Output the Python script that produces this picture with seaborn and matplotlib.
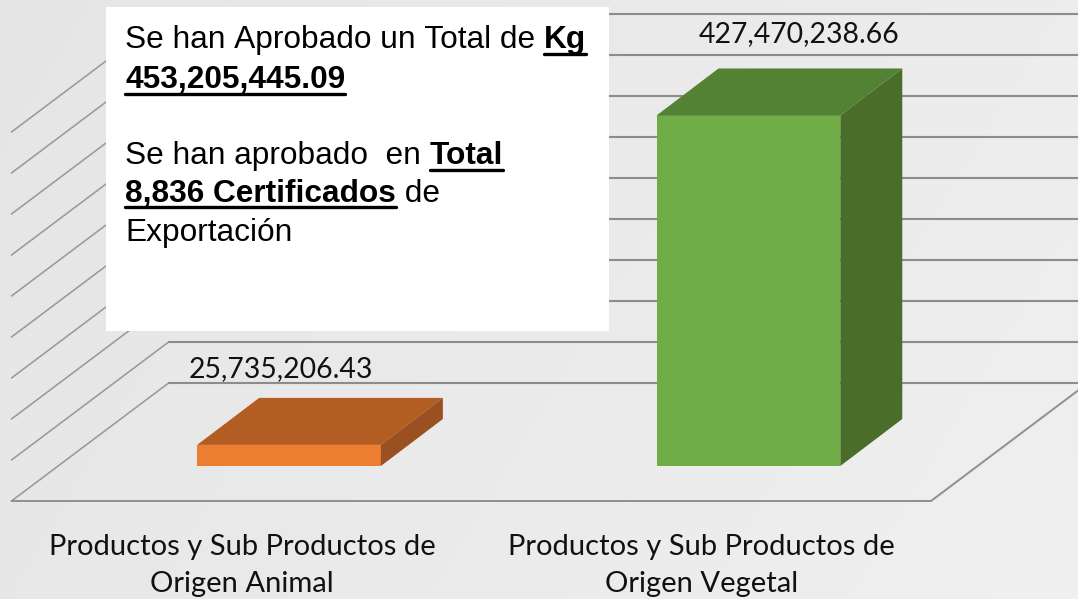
import numpy as np
import pandas as pd
import matplotlib
matplotlib.use('Agg')
import matplotlib.pyplot as plt
import seaborn as sns
from matplotlib.lines import Line2D
from matplotlib.patches import Polygon, Rectangle

# datos
categorias = ['Productos y Sub Productos de\nOrigen Animal', 'Productos y Sub Productos de\nOrigen Vegetal']
valores = [25735206.43, 427470238.66]
rejilla = [0, 50e6, 100e6, 150e6, 200e6, 250e6, 300e6, 350e6, 400e6, 450e6]
col_frente = ['#ED7D31', '#70AD47']
col_arriba = ['#B35D22', '#548235']
col_lado = ['#9A5020', '#4A6E2A']

W, H = 1078, 599
sns.set_theme(style='white')
plt.rcParams['font.family'] = ['Lato', 'DejaVu Sans']

fig = plt.figure(figsize=(W / 100, H / 100), dpi=100)

# fondo gris con degradado
bg = fig.add_axes([0, 0, 1, 1], zorder=-1)
gx, gy = np.meshgrid(np.linspace(0, 1, 200), np.linspace(0, 1, 120))
bg.imshow(gx * 0.75 + (1 - gy) * 0.25, cmap='gray', vmin=-22.4, vmax=2.6, aspect='auto', origin='lower')
bg.axis('off')

# escala: 41 px = 50 millones, base de las barras en y=466
px_y = 50e6 / 41
px_x = 1 / 459.4
ax = fig.add_axes([0, (H - 510) / H, 1, 510 / H])
df = pd.DataFrame({'cat': categorias, 'valor': valores})
sns.barplot(data=df, x='cat', y='valor', hue='cat', palette=col_frente, width=0.4,
            legend=False, saturation=1, linewidth=0, ax=ax, zorder=3)
ax.set_xlim(-289 * px_x, (W - 289) * px_x)
ax.set_ylim(-44 * px_y, 466 * px_y)
ax.patch.set_alpha(0)
for s in ax.spines.values():
    s.set_visible(False)
ax.set_xlabel('')
ax.set_ylabel('')
ax.set_yticks([])

# suelo y paredes
izq = (11.5 - 289) * px_x
fondo_izq = (168.6 - 289) * px_x
fondo_der = (1088 - 289) * px_x
frente_der = (931 - 289) * px_x
abajo = -35 * px_y
atras = 83 * px_y
for g in rejilla:
    ax.plot([izq, fondo_izq], [g + abajo, g + atras], color='#9c9c9c', lw=1.2, zorder=1)
    ax.plot([fondo_izq, fondo_der], [g + atras, g + atras], color='#8c8c8c', lw=1.5, zorder=1)
ax.plot([izq, frente_der, fondo_der], [abajo, abajo, atras], color='#8f8f8f', lw=1.4, zorder=1)

# caras de arriba y del lado de cada barra
dx = 62 * px_x
dy = 47 * px_y
sep_etiqueta = [29, 34]
corr_x = [-8, 51]
for i, v in enumerate(valores):
    a, b = i - 0.2, i + 0.2
    ax.add_patch(Polygon([(a, v), (b, v), (b + dx, v + dy), (a + dx, v + dy)], color=col_arriba[i], lw=0, zorder=4))
    ax.add_patch(Polygon([(b, 0), (b + dx, dy), (b + dx, v + dy), (b, v)], color=col_lado[i], lw=0, zorder=4))
    ax.text(i + corr_x[i] * px_x, v + dy + sep_etiqueta[i] * px_y, f'{v:,.2f}', ha='center', va='center',
            fontsize=20.4, color='#111111', zorder=2)

ax.set_xticks(np.arange(2) - 47 * px_x)
ax.set_xticklabels(categorias, fontsize=21, color='#111111', linespacing=1.55)
ax.tick_params(axis='x', length=0, pad=17)

# cuadro blanco con el texto
fig.add_artist(Rectangle((106 / W, 1 - 331 / H), 503 / W, 324 / H, color='white', lw=0,
                         transform=fig.transFigure, zorder=5))
renglones = [
    (48, [('Se han Aprobado un Total de ', False), ('Kg', True)]),
    (88, [('453,205,445.09', True)]),
    (164, [('Se han aprobado  en ', False), ('Total', True)]),
    (202, [('8,836 Certificados', True), (' de', False)]),
    (241, [('Exportación', False)]),
]
r = fig.canvas.get_renderer()
for y, partes in renglones:
    x = 125
    for t, neg in partes:
        txt = fig.text(x / W, 1 - y / H, t.replace(' ', '\u00a0'), family='Liberation Sans', fontsize=22.8,
                       color='black', fontweight='bold' if neg else 'normal', zorder=6, va='baseline')
        ancho = txt.get_window_extent(r).width
        if neg:
            fig.add_artist(Line2D([x / W, (x + ancho) / W], [1 - (y + 5.5) / H] * 2, color='black', lw=2.4,
                                  transform=fig.transFigure, zorder=6))
        x += ancho

fig.savefig('out.png', dpi=100)
